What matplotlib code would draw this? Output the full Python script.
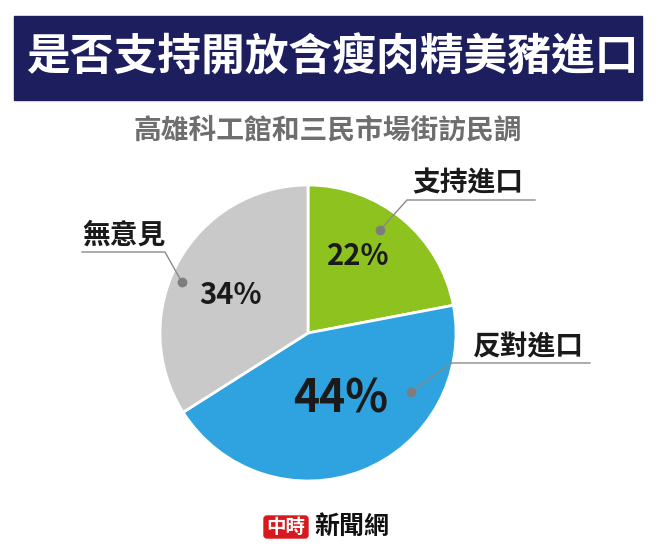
import numpy as np
import matplotlib.pyplot as plt
from matplotlib.patches import Rectangle, FancyBboxPatch

plt.rcParams['font.family'] = ['Noto Sans CJK TC', 'DejaVu Sans']

# data
labels = ['支持進口', '反對進口', '無意見']
values = [22, 44, 34]
colors = ['#8dc21f', '#2ea3df', '#c9c9c9']
title = '是否支持開放含瘦肉精美豬進口'
subtitle = '高雄科工館和三民市場街訪民調'

W, H = 656, 557
fig = plt.figure(figsize=(W / 100, H / 100), dpi=100)
ax = fig.add_axes([0, 0, 1, 1])

# title bar
ax.add_patch(Rectangle((14, H - 100), 628, 84, color='#1d1e5e', zorder=1))
ax.text(W / 2 + 4, H - 58, title, color='white', fontsize=31.5, fontweight='bold',
        ha='center', va='center', zorder=2)
ax.text(W / 2, H - 130, subtitle, color='#6e6e6e', fontsize=20, fontweight='bold',
        ha='center', va='center')

# pie
cx, cy, R = 308, H - 333, 148
wedges, _ = ax.pie(values, colors=colors, startangle=90, counterclock=False,
                   center=(cx, cy), radius=R, frame=True,
                   wedgeprops=dict(edgecolor='white', linewidth=2))
ax.set_xlim(0, W)
ax.set_ylim(0, H)
ax.set_aspect('equal')
ax.axis('off')

# percentage labels
pct_ang = [57, -64, 154]
pct_r = [0.62, 0.50, 0.58]
pct_size = [21, 32, 21]
for v, a, r, s in zip(values, pct_ang, pct_r, pct_size):
    t = np.deg2rad(a)
    ax.text(cx + r * R * np.cos(t), cy + r * R * np.sin(t), f'{v}%',
            fontsize=s, fontweight='bold', color='#1a1a1a', ha='center', va='center')

# category labels with leader lines
dot_ang = [55, -30, 158]
dot_r = [0.85, 0.80, 0.92]
elbow = [(407, H - 200), (452, H - 363), (165, H - 252)]
line_end = [535, 590, 82]
text_pos = [(468, H - 183), (528, H - 347), (124, H - 236)]
for lab, a, r, (ex, ey), lx, (tx, ty) in zip(labels, dot_ang, dot_r, elbow, line_end, text_pos):
    t = np.deg2rad(a)
    dx, dy = cx + r * R * np.cos(t), cy + r * R * np.sin(t)
    ax.plot([dx, ex, lx], [dy, ey, ey], color='#8a8a8a', lw=1, zorder=5)
    ax.plot(dx, dy, 'o', color='#7d7d7d', ms=6, zorder=6)
    ax.text(tx, ty, lab, fontsize=20, fontweight='bold', color='#1a1a1a',
            ha='center', va='center')

# logo
ax.add_patch(FancyBboxPatch((264, H - 538), 44, 22, boxstyle='round,pad=0,rounding_size=3',
                            color='#d7191e'))
ax.text(286, H - 527, '中時', color='white', fontsize=14, fontweight='bold',
        ha='center', va='center')
ax.text(352, H - 527, '新聞網', color='#111111', fontsize=18, fontweight='bold',
        ha='center', va='center')

fig.savefig('out.png', dpi=100)
